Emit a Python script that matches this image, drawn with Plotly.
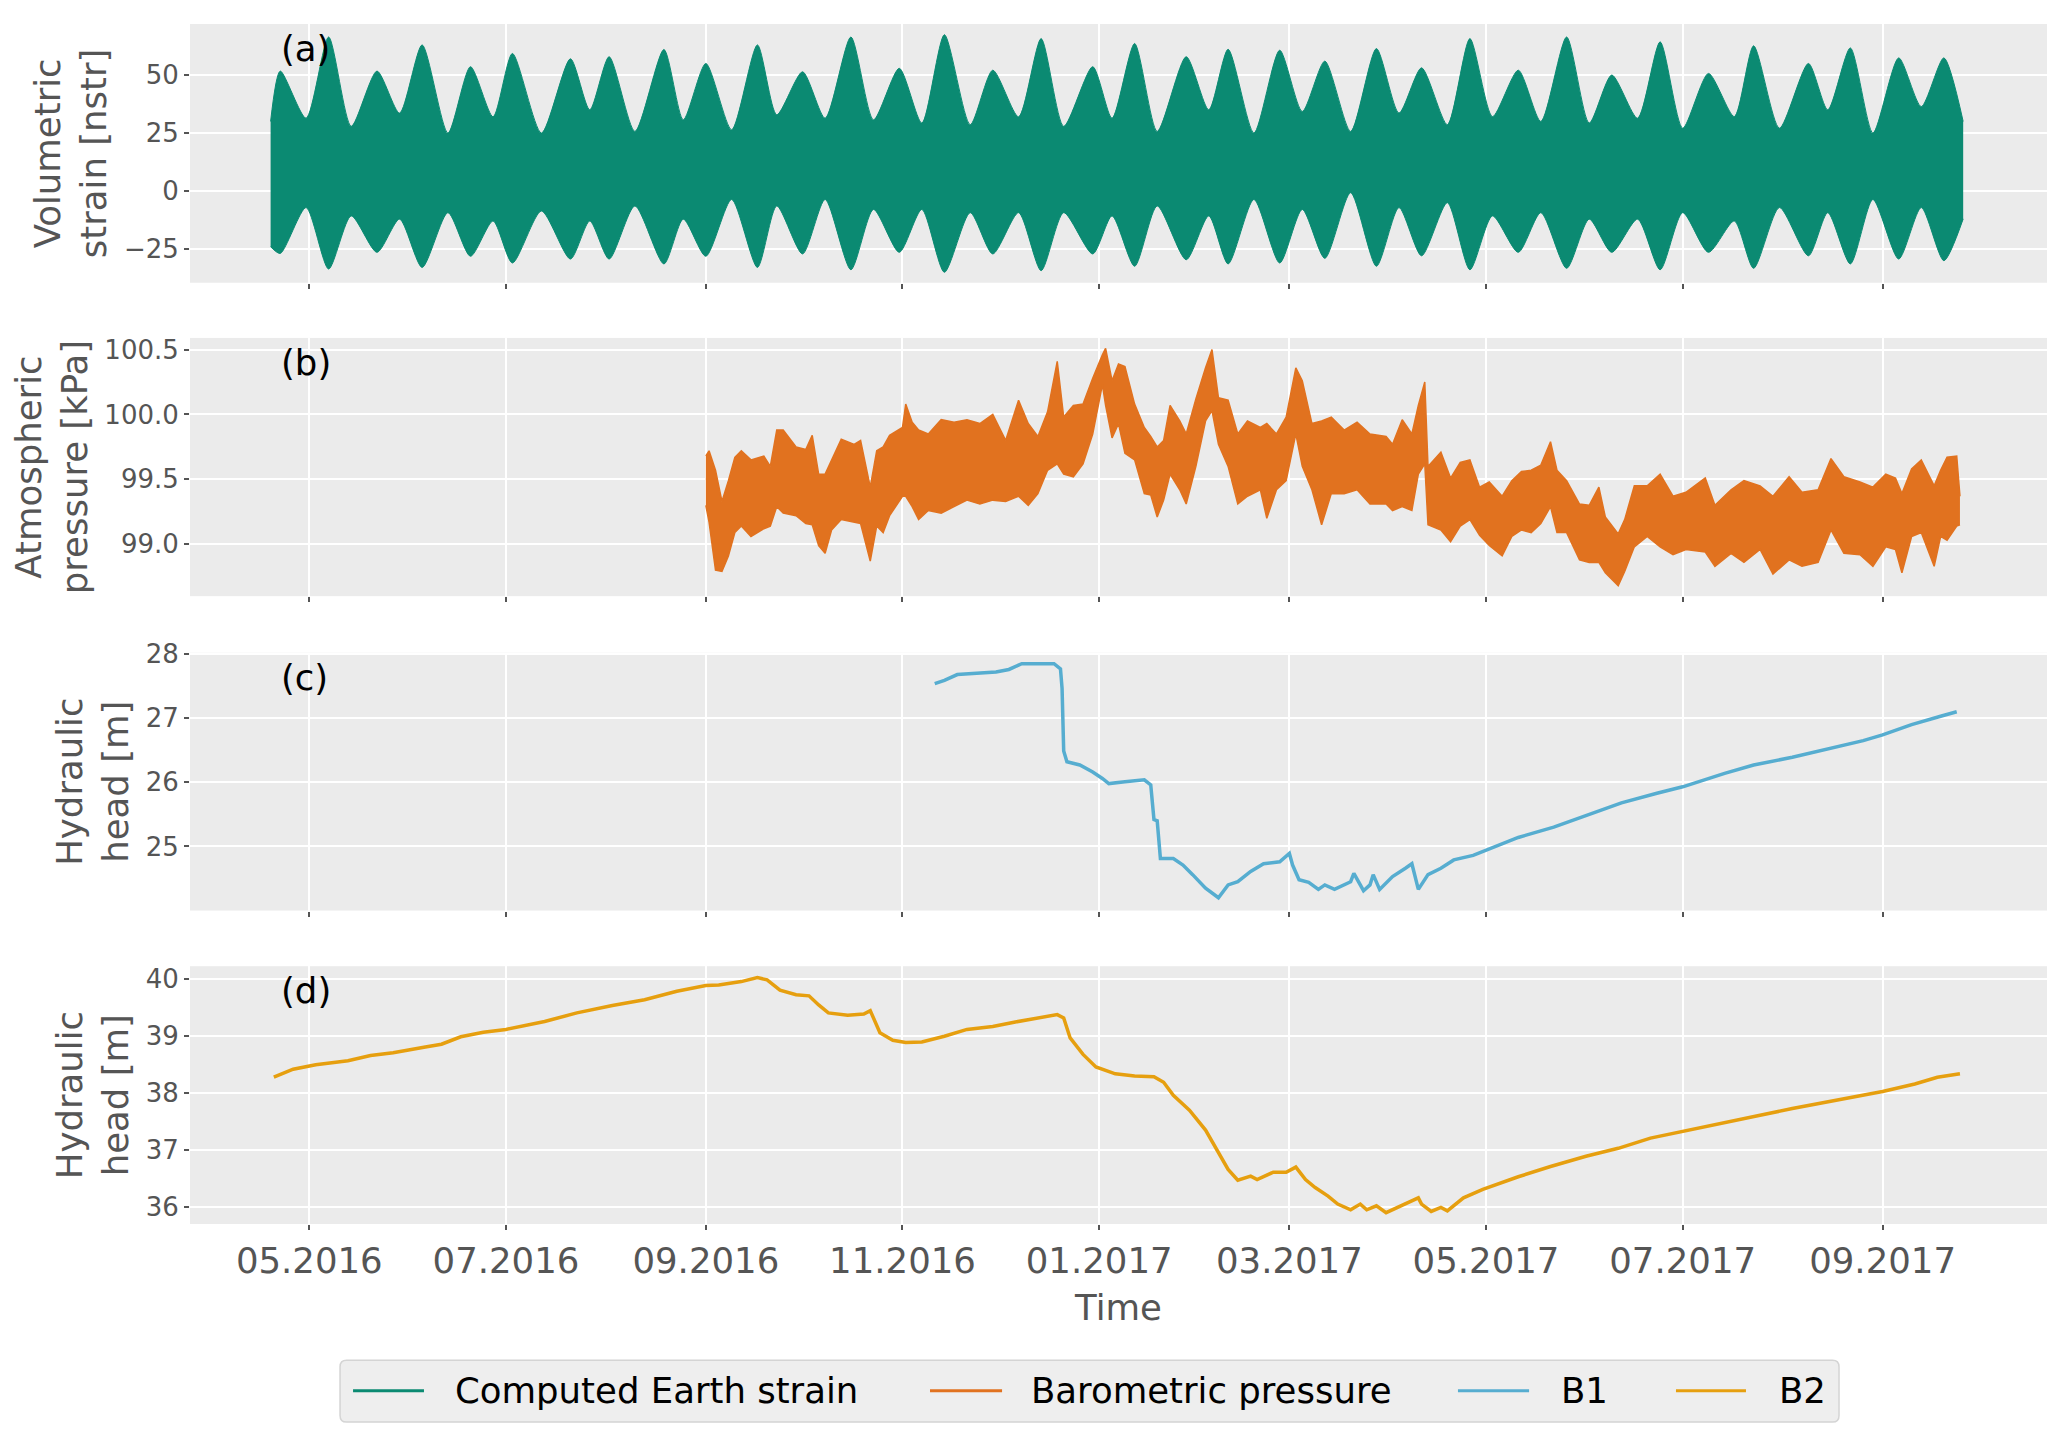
import plotly.graph_objects as go
from plotly.subplots import make_subplots

# ---------------- data ----------------
strain_dates = ["2016-04-19","2016-04-22","2016-04-30","2016-05-07","2016-05-14","2016-05-22","2016-05-29",
    "2016-06-05","2016-06-13","2016-06-20","2016-06-27","2016-07-03","2016-07-12","2016-07-21","2016-07-27",
    "2016-08-02","2016-08-10","2016-08-19","2016-08-25","2016-09-01","2016-09-09","2016-09-17","2016-09-23",
    "2016-10-01","2016-10-08","2016-10-16","2016-10-23","2016-10-31","2016-11-07","2016-11-14","2016-11-22",
    "2016-11-29","2016-12-07","2016-12-14","2016-12-21","2016-12-30","2017-01-05","2017-01-12","2017-01-19",
    "2017-01-28","2017-02-04","2017-02-10","2017-02-18","2017-02-26","2017-03-05","2017-03-12","2017-03-20",
    "2017-03-28","2017-04-04","2017-04-11","2017-04-19","2017-04-26","2017-05-03","2017-05-11","2017-05-18",
    "2017-05-26","2017-06-02","2017-06-09","2017-06-17","2017-06-24","2017-07-01","2017-07-09","2017-07-17",
    "2017-07-23","2017-07-31","2017-08-09","2017-08-15","2017-08-22","2017-08-29","2017-09-06","2017-09-13",
    "2017-09-20","2017-09-26"]
strain_upper = [30, 51.7, 31.4, 66.4, 27.9, 51.7, 33.6, 63, 25, 53.6, 32, 59.3, 25, 57, 35, 57.9, 25.7, 61,
    30.7, 55, 26.4, 63, 32.9, 51.4, 31.4, 66.4, 30.7, 52.9, 29.3, 67.4, 28.6, 52.1, 32, 65.7, 27.9, 53.6,
    31.4, 63.6, 25.7, 57.9, 35, 61.1, 25, 60.7, 34.3, 56, 25.7, 61.4, 33.6, 53.1, 28.6, 65.7, 32.1, 52.1,
    30, 66.4, 29.3, 50, 31.4, 64.3, 27.1, 50.7, 32.1, 62.6, 27.1, 55, 35, 61.7, 25, 57.4, 36.4, 57.4, 30]
strain_lower = [-24, -26.9, -7.1, -33.6, -10.7, -26.4, -12.1, -32.9, -9.3, -28.1, -12.9, -31, -8.6, -29.3,
    -12.9, -29.3, -6.4, -31.4, -12.1, -28.1, -3.6, -32.9, -6.4, -27.1, -3.6, -33.9, -7.9, -26.4, -7.9, -35,
    -9.3, -27.1, -9.3, -34.3, -9.3, -27.1, -10.7, -32.4, -6.4, -29.6, -10.7, -31.4, -3.6, -31, -7.9, -29,
    -0.7, -32.4, -7.1, -27.9, -5, -33.9, -10.7, -26.4, -9.3, -33.3, -12.1, -26.4, -12.1, -33.9, -9.3, -26.4,
    -12.9, -33.3, -7.1, -27.9, -9.3, -31.4, -3.6, -29.3, -7.1, -30, -12]

pres_dates = ["2016-09-01","2016-09-02","2016-09-04","2016-09-06","2016-09-08","2016-09-10","2016-09-12",
    "2016-09-15","2016-09-19","2016-09-21","2016-09-23","2016-09-25","2016-09-29","2016-10-02","2016-10-04",
    "2016-10-06","2016-10-08","2016-10-10","2016-10-13","2016-10-17","2016-10-19","2016-10-22","2016-10-24",
    "2016-10-26","2016-10-28","2016-11-01","2016-11-02","2016-11-04","2016-11-06","2016-11-09","2016-11-13",
    "2016-11-17","2016-11-21","2016-11-25","2016-11-29","2016-12-03","2016-12-07","2016-12-10","2016-12-13",
    "2016-12-16","2016-12-19","2016-12-21","2016-12-24","2016-12-27","2016-12-30","2017-01-02","2017-01-03",
    "2017-01-05","2017-01-07","2017-01-09","2017-01-12","2017-01-15","2017-01-17","2017-01-19","2017-01-21",
    "2017-01-23","2017-01-26","2017-01-28","2017-01-31","2017-02-03","2017-02-05","2017-02-07","2017-02-10",
    "2017-02-13","2017-02-16","2017-02-20","2017-02-22","2017-02-25","2017-02-28","2017-03-03","2017-03-05",
    "2017-03-08","2017-03-11","2017-03-14","2017-03-18","2017-03-22","2017-03-26","2017-03-31",
    "2017-04-02","2017-04-05","2017-04-08","2017-04-10","2017-04-12","2017-04-13","2017-04-17","2017-04-20",
    "2017-04-23","2017-04-26","2017-04-29","2017-05-02","2017-05-06","2017-05-09","2017-05-12","2017-05-15",
    "2017-05-18","2017-05-21","2017-05-23","2017-05-26","2017-05-30","2017-06-02","2017-06-05","2017-06-07",
    "2017-06-11","2017-06-13","2017-06-16","2017-06-20","2017-06-24","2017-06-28","2017-07-02","2017-07-08",
    "2017-07-11","2017-07-16","2017-07-20","2017-07-25","2017-07-29","2017-08-03","2017-08-07","2017-08-12",
    "2017-08-16","2017-08-20","2017-08-25","2017-08-29","2017-09-02","2017-09-05","2017-09-07","2017-09-10",
    "2017-09-13","2017-09-17","2017-09-19","2017-09-21","2017-09-24","2017-09-25"]
pres_upper = [99.68, 99.72, 99.57, 99.33, 99.49, 99.67, 99.72, 99.65, 99.68, 99.60, 99.88, 99.88, 99.75,
    99.73, 99.84, 99.54, 99.54, 99.65, 99.81, 99.77, 99.80, 99.44, 99.72, 99.75, 99.84, 99.90, 100.08, 99.94,
    99.88, 99.85, 99.96, 99.94, 99.96, 99.93, 100.00, 99.80, 100.11, 99.93, 99.83, 100.02, 100.41, 99.98,
    100.07, 100.08, 100.28, 100.46, 100.51, 100.26, 100.39, 100.37, 100.08, 99.90, 99.83, 99.75, 99.80,
    100.07, 99.95, 99.85, 100.12, 100.36, 100.50, 100.13, 100.11, 99.85, 99.95, 99.90, 99.93, 99.85, 99.98,
    100.36, 100.26, 99.93, 99.95, 99.98, 99.88, 99.94, 99.85, 99.83,
    99.77, 99.96, 99.85, 100.07, 100.25, 99.60, 99.71, 99.51, 99.63, 99.65, 99.44, 99.48, 99.37, 99.49,
    99.56, 99.57, 99.61, 99.79, 99.57, 99.49, 99.31, 99.30, 99.44, 99.21, 99.08, 99.19, 99.45, 99.45, 99.54,
    99.37, 99.40, 99.51, 99.30, 99.42, 99.49, 99.45, 99.37, 99.52, 99.40, 99.42, 99.66, 99.52, 99.48, 99.44,
    99.54, 99.51, 99.39, 99.58, 99.65, 99.45, 99.57, 99.67, 99.68, 99.37]
pres_lower = [99.30, 99.17, 98.80, 98.79, 98.91, 99.09, 99.14, 99.06, 99.12, 99.14, 99.29, 99.24, 99.22,
    99.16, 99.15, 98.99, 98.93, 99.11, 99.19, 99.17, 99.16, 98.87, 99.14, 99.09, 99.22, 99.37, 99.37, 99.29,
    99.19, 99.26, 99.24, 99.29, 99.34, 99.31, 99.34, 99.33, 99.37, 99.30, 99.39, 99.57, 99.62, 99.54, 99.52,
    99.62, 99.85, 100.23, 100.07, 99.82, 99.93, 99.70, 99.65, 99.39, 99.38, 99.21, 99.34, 99.54, 99.42,
    99.31, 99.60, 99.95, 100.03, 99.77, 99.60, 99.31, 99.37, 99.42, 99.20, 99.42, 99.49, 99.85, 99.60, 99.42,
    99.15, 99.39, 99.39, 99.42, 99.31, 99.31,
    99.26, 99.29, 99.26, 99.54, 99.62, 99.15, 99.11, 99.02, 99.14, 99.19, 99.07, 98.99, 98.91, 99.06, 99.11,
    99.09, 99.16, 99.29, 99.09, 99.09, 98.88, 98.86, 98.86, 98.78, 98.68, 98.79, 98.98, 99.06, 98.98, 98.92,
    98.96, 98.94, 98.83, 98.93, 98.86, 98.96, 98.77, 98.88, 98.83, 98.86, 99.11, 98.93, 98.92, 98.83, 98.98,
    98.96, 98.78, 99.06, 99.09, 98.83, 99.06, 99.03, 99.14, 99.15]

b1_dates = ["2016-11-11","2016-11-14","2016-11-18","2016-11-23","2016-11-30","2016-12-04","2016-12-08",
    "2016-12-13","2016-12-18","2016-12-20 00:00","2016-12-20 12:00","2016-12-21 00:00","2016-12-22",
    "2016-12-26","2016-12-30","2017-01-02","2017-01-04","2017-01-09","2017-01-15","2017-01-17","2017-01-18",
    "2017-01-19","2017-01-20","2017-01-24","2017-01-27","2017-01-30","2017-02-03","2017-02-07","2017-02-10",
    "2017-02-13","2017-02-17","2017-02-21","2017-02-26","2017-03-01","2017-03-02","2017-03-04","2017-03-07",
    "2017-03-10","2017-03-12","2017-03-15","2017-03-20","2017-03-21","2017-03-24","2017-03-26","2017-03-27",
    "2017-03-29","2017-04-02","2017-04-06","2017-04-08","2017-04-10","2017-04-13","2017-04-17","2017-04-21",
    "2017-04-27","2017-05-01","2017-05-11","2017-05-22","2017-06-02","2017-06-12","2017-06-23","2017-07-01",
    "2017-07-14","2017-07-23","2017-08-04","2017-08-15","2017-08-26","2017-09-01","2017-09-10","2017-09-19",
    "2017-09-24"]
b1_head = [27.54, 27.59, 27.68, 27.70, 27.72, 27.76, 27.85, 27.85, 27.85, 27.77, 27.46, 26.49, 26.32, 26.27,
    26.16, 26.06, 25.98, 26.01, 26.04, 25.96, 25.42, 25.40, 24.81, 24.81, 24.71, 24.56, 24.35, 24.20, 24.40,
    24.45, 24.61, 24.73, 24.76, 24.89, 24.71, 24.48, 24.44, 24.33, 24.40, 24.33, 24.45, 24.58, 24.31, 24.40,
    24.56, 24.33, 24.53, 24.66, 24.73, 24.33, 24.56, 24.66, 24.79, 24.86, 24.94, 25.14, 25.30, 25.50, 25.68,
    25.83, 25.93, 26.14, 26.27, 26.39, 26.52, 26.65, 26.74, 26.90, 27.03, 27.10]

b2_dates = ["2016-04-20","2016-04-26","2016-05-03","2016-05-08","2016-05-13","2016-05-20","2016-05-27",
    "2016-06-06","2016-06-11","2016-06-17","2016-06-24","2016-07-01","2016-07-13","2016-07-23","2016-08-03",
    "2016-08-13","2016-08-23","2016-09-01","2016-09-05","2016-09-12","2016-09-17","2016-09-20","2016-09-24",
    "2016-09-29","2016-10-03","2016-10-06","2016-10-09","2016-10-15","2016-10-20","2016-10-22","2016-10-25",
    "2016-10-29","2016-11-02","2016-11-07","2016-11-14","2016-11-21","2016-11-29","2016-12-06","2016-12-13",
    "2016-12-19","2016-12-21","2016-12-23","2016-12-27","2016-12-31","2017-01-06","2017-01-12","2017-01-18",
    "2017-01-21","2017-01-24","2017-01-29","2017-02-03","2017-02-07","2017-02-10","2017-02-13","2017-02-17",
    "2017-02-19","2017-02-24","2017-02-28","2017-03-03","2017-03-06","2017-03-09","2017-03-13","2017-03-16",
    "2017-03-20","2017-03-23","2017-03-25","2017-03-28","2017-03-31","2017-04-06","2017-04-10","2017-04-11",
    "2017-04-14","2017-04-17","2017-04-19","2017-04-24","2017-04-30","2017-05-11","2017-05-21","2017-06-01",
    "2017-06-11","2017-06-21","2017-06-30","2017-07-11","2017-07-25","2017-08-04","2017-08-14","2017-08-25",
    "2017-09-01","2017-09-11","2017-09-18","2017-09-25"]
b2_head = [38.28, 38.42, 38.50, 38.54, 38.57, 38.66, 38.71, 38.81, 38.86, 38.99, 39.07, 39.12, 39.26, 39.41,
    39.54, 39.64, 39.79, 39.89, 39.90, 39.96, 40.03, 39.99, 39.81, 39.73, 39.71, 39.55, 39.41, 39.37, 39.39,
    39.45, 39.06, 38.93, 38.89, 38.90, 39.00, 39.12, 39.17, 39.25, 39.32, 39.38, 39.32, 38.97, 38.68, 38.46,
    38.34, 38.30, 38.29, 38.19, 37.96, 37.70, 37.35, 36.94, 36.66, 36.47, 36.54, 36.48, 36.61, 36.61, 36.70,
    36.48, 36.34, 36.19, 36.05, 35.95, 36.05, 35.95, 36.02, 35.90, 36.05, 36.16, 36.05, 35.92, 35.99, 35.93,
    36.16, 36.31, 36.53, 36.71, 36.89, 37.03, 37.21, 37.32, 37.44, 37.61, 37.73, 37.84, 37.96, 38.03, 38.16,
    38.28, 38.34]

series_names = ["Computed Earth strain", "Barometric pressure", "B1", "B2"]
panel_labels = ["(a)", "(b)", "(c)", "(d)"]
y_titles = ["Volumetric<br>strain [nstr]", "Atmospheric<br>pressure [kPa]",
            "Hydraulic<br>head [m]", "Hydraulic<br>head [m]"]
y_ticks = [[-25, 0, 25, 50], [99.0, 99.5, 100.0, 100.5], [25, 26, 27, 28], [36, 37, 38, 39, 40]]
y_ranges = [[-39.5, 72], [98.6, 100.59], [24.0, 28.02], [35.7, 40.23]]
x_range = ["2016-03-25", "2017-10-22"]

# ---------------- styling ----------------
C_STRAIN = "#0B8A72"
C_PRES = "#E1721F"
C_B1 = "#56ADD0"
C_B2 = "#E69F0F"
COLORS = [C_STRAIN, C_PRES, C_B1, C_B2]
FONT = "DejaVu Sans"
GREY = "#555555"
BIG = 35.5
SMALL = 26

fig = make_subplots(rows=4, cols=1, shared_xaxes=True)

# strain band: lower envelope, then upper envelope filled down to it
fig.add_trace(go.Scatter(x=strain_dates, y=strain_lower, mode="lines",
                         line=dict(color=C_STRAIN, width=1, shape="spline", smoothing=0.7),
                         showlegend=False, hoverinfo="skip"), row=1, col=1)
fig.add_trace(go.Scatter(x=strain_dates, y=strain_upper, mode="lines", fill="tonexty",
                         fillcolor=C_STRAIN,
                         line=dict(color=C_STRAIN, width=1, shape="spline", smoothing=0.7),
                         showlegend=False, hoverinfo="skip"), row=1, col=1)
# pressure band
fig.add_trace(go.Scatter(x=pres_dates, y=pres_lower, mode="lines",
                         line=dict(color=C_PRES, width=1.5), showlegend=False, hoverinfo="skip"),
              row=2, col=1)
fig.add_trace(go.Scatter(x=pres_dates, y=pres_upper, mode="lines", fill="tonexty", fillcolor=C_PRES,
                         line=dict(color=C_PRES, width=1.5), showlegend=False, hoverinfo="skip"),
              row=2, col=1)
fig.add_trace(go.Scatter(x=b1_dates, y=b1_head, mode="lines", line=dict(color=C_B1, width=3.5),
                         name=series_names[2], showlegend=False), row=3, col=1)
fig.add_trace(go.Scatter(x=b2_dates, y=b2_head, mode="lines", line=dict(color=C_B2, width=3.5),
                         name=series_names[3], showlegend=False), row=4, col=1)

domains = [[0.7844, 1.0], [0.5232, 0.7384], [0.2612, 0.4760], [0.0, 0.2148]]
for i in range(4):
    yname = "yaxis" if i == 0 else f"yaxis{i+1}"
    xname = "xaxis" if i == 0 else f"xaxis{i+1}"
    fig.layout[yname].update(domain=domains[i], range=y_ranges[i], tickvals=y_ticks[i],
                             tickformat=".1f" if i == 1 else None,
                             showgrid=True, gridcolor="white", gridwidth=2, zeroline=False,
                             ticks="outside", ticklen=5, tickwidth=1.5, tickcolor=GREY,
                             tickfont=dict(size=SMALL, color=GREY, family=FONT),
                             title=dict(text=y_titles[i], standoff=6,
                                        font=dict(size=BIG, color=GREY, family=FONT)),
                             showline=False)
    fig.layout[xname].update(range=x_range, type="date", tick0="2016-05-01", dtick="M2",
                             tickformat="%m.%Y", showgrid=True, gridcolor="white", gridwidth=2,
                             zeroline=False, ticks="outside", ticklen=5, tickwidth=1.5, tickcolor=GREY,
                             tickfont=dict(size=BIG, color=GREY, family=FONT), showline=False)
    fig.add_annotation(text=panel_labels[i], xref=f"{'x' if i == 0 else 'x' + str(i+1)} domain",
                       yref=f"{'y' if i == 0 else 'y' + str(i+1)} domain",
                       x=0.048, y=0.905, xanchor="left", yanchor="middle", showarrow=False,
                       font=dict(size=BIG, color="black", family=FONT))

fig.layout.xaxis4.title = dict(text="Time", font=dict(size=BIG, color=GREY, family=FONT))

# ---------------- legend (drawn box, line samples and text) ----------------
lx0, lx1, ly0, ly1 = 0.0808, 0.8880, -0.1650, -0.1136
rx, ry = 0.0035, 0.0055
box_path = (f"M {lx0+rx},{ly0} L {lx1-rx},{ly0} Q {lx1},{ly0} {lx1},{ly0+ry} "
            f"L {lx1},{ly1-ry} Q {lx1},{ly1} {lx1-rx},{ly1} L {lx0+rx},{ly1} "
            f"Q {lx0},{ly1} {lx0},{ly1-ry} L {lx0},{ly0+ry} Q {lx0},{ly0} {lx0+rx},{ly0} Z")
fig.add_shape(type="path", path=box_path, xref="paper", yref="paper",
              fillcolor="#EEEEEE", line=dict(color="#D4D4D4", width=1.5), layer="above")
leg_line_x = [(0.0878, 0.1260), (0.3985, 0.4373), (0.6828, 0.7211), (0.8002, 0.8379)]
leg_text_x = [0.1416, 0.4518, 0.7372, 0.8546]
leg_y = -0.1390
for name, col, (a, b), tx in zip(series_names, COLORS, leg_line_x, leg_text_x):
    fig.add_shape(type="line", x0=a, x1=b, y0=leg_y, y1=leg_y, xref="paper", yref="paper",
                  line=dict(color=col, width=3), layer="above")
    fig.add_annotation(text=name, x=tx, y=leg_y, xref="paper", yref="paper", xanchor="left",
                       yanchor="middle", showarrow=False,
                       font=dict(size=BIG, color="black", family=FONT))

fig.update_layout(
    width=2059, height=1435,
    margin=dict(l=182, r=20, t=2, b=219),
    paper_bgcolor="white", plot_bgcolor="#EBEBEB",
    font=dict(family=FONT, color=GREY),
    showlegend=False,
)

fig.write_html("out.html")
